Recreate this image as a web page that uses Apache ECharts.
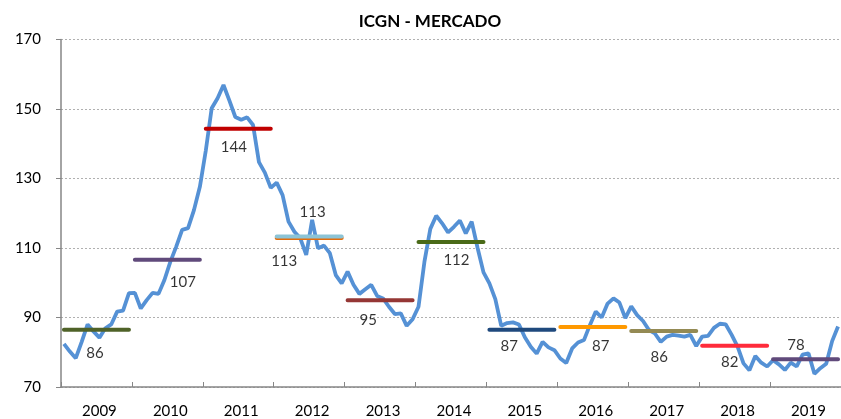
<!DOCTYPE html>
<html><head><meta charset="utf-8">
<script src="https://cdn.jsdelivr.net/npm/echarts@6/dist/echarts.min.js"></script>
<style>html,body{margin:0;padding:0;background:#fff}#c{width:841px;height:419px}</style>
</head><body><div id="c"></div>
<script>
// ---- data ----
const years = ['2009','2010','2011','2012','2013','2014','2015','2016','2017','2018','2019'];
const icgn2009 = [82.4, 80.2, 78.3, 83.0, 88.0, 86.0, 84.2, 86.9, 88.0, 91.7, 92.0, 97.0];
const icgn2010 = [97.1, 92.6, 95.0, 97.1, 96.8, 100.8, 106.0, 110.4, 115.2, 115.7, 120.9, 127.6];
const icgn2011 = [138.0, 150.2, 153.1, 156.9, 152.4, 147.7, 146.9, 147.6, 145.4, 134.7, 131.7, 127.3];
const icgn2012 = [128.8, 125.2, 117.6, 114.7, 112.8, 108.0, 118.1, 109.9, 110.7, 108.5, 102.2, 99.8];
const icgn2013 = [103.2, 99.4, 96.8, 98.1, 99.4, 96.2, 95.5, 93.1, 91.0, 91.2, 87.6, 89.5];
const icgn2014 = [93.1, 106.0, 115.5, 119.3, 117.1, 114.5, 116.1, 117.9, 114.2, 117.6, 110.0, 103.0];
const icgn2015 = [99.8, 95.3, 87.6, 88.4, 88.6, 88.0, 84.3, 81.6, 79.6, 83.0, 81.4, 80.6];
const icgn2016 = [78.2, 76.9, 81.1, 82.8, 83.5, 87.8, 91.7, 90.0, 94.0, 95.5, 94.3, 89.8];
const icgn2017 = [93.2, 90.7, 89.0, 86.4, 85.4, 83.0, 84.5, 85.0, 84.8, 84.5, 85.0, 81.8];
const icgn2018 = [84.5, 84.7, 87.0, 88.2, 88.0, 85.0, 81.6, 76.8, 74.8, 78.9, 77.0, 75.9];
const icgn2019 = [77.7, 76.5, 74.9, 77.0, 75.9, 79.3, 79.7, 73.8, 75.4, 76.7, 83.2, 87.4];
const yearlyAvg = [86.5, 106.6, 144.3, 113.3, 95.0, 111.7, 86.5, 87.3, 86.1, 81.9, 78.0];
const avgLabels = ['86', '107', '144', '113', '95', '112', '87', '87', '86', '82', '78'];
const avg2012b = 112.9;
const avg2012bLabel = '113';
const yTicks = [70, 90, 110, 130, 150, 170];

// ---- styles / placement ----
const avgColors = ['#4f6228', '#604a7b', '#c00000', '#8cc4d6', '#953735', '#4a6a18', '#1f497d', '#ff9900', '#948a54', '#ff2b3b', '#604a7b'];
const avgLabelPlace = [[6,-4.5,23],[8,0.7,22],[5,-1.5,18],[6,0.5,-24],[3,3,20],[6,2.5,18.5],[3,2,16],[7,-1,19],[5,-1.5,26],[5,-2,17],[4,-0.7,-14]];
const avg2012bPlace = [1, 1.6, 23];

const series2d = [icgn2009, icgn2010, icgn2011, icgn2012, icgn2013, icgn2014, icgn2015, icgn2016, icgn2017, icgn2018, icgn2019];
const icgn = series2d.flat();
const months = years.flatMap(y => ['01','02','03','04','05','06','07','08','09','10','11','12'].map(m => y + '-' + m));
const N = months.length;
const FONT = 'Lato';

function yearLine(k, v) {
  const d = new Array(N).fill(null);
  for (let j = 0; j < 12; j++) d[k * 12 + j] = v;
  return d;
}

const series = [{
  name: 'ICGN', type: 'line', data: icgn, symbol: 'none', z: 2,
  lineStyle: { color: '#5591d5', width: 3.8 }
}];

// 2012 second (orange) average line beneath the light blue one
series.push({
  type: 'line', data: yearLine(3, avg2012b), symbol: 'none', z: 3,
  lineStyle: { color: '#e46c0a', width: 4, cap: 'round' }
});
yearlyAvg.forEach((v, k) => {
  series.push({
    type: 'line', data: yearLine(k, v), symbol: 'none', z: 4,
    lineStyle: { color: avgColors[k], width: 4, cap: 'round' }
  });
});

const labelData = yearlyAvg.map((v, k) => ({
  value: [k * 12 + avgLabelPlace[k][0], v],
  label: { formatter: avgLabels[k], offset: [avgLabelPlace[k][1], avgLabelPlace[k][2]] }
}));
labelData.push({
  value: [3 * 12 + avg2012bPlace[0], avg2012b],
  label: { formatter: avg2012bLabel, offset: [avg2012bPlace[1], avg2012bPlace[2]] }
});
series.push({
  type: 'scatter', data: labelData, symbolSize: 1, z: 5,
  itemStyle: { color: 'rgba(0,0,0,0)' },
  label: { show: true, position: 'inside', color: '#000', fontSize: 15, fontFamily: FONT, align: 'center', verticalAlign: 'middle' },
  emphasis: { disabled: true }
});

const chart = echarts.init(document.getElementById('c'), null, { renderer: 'canvas' });
chart.setOption({
  animation: false,
  backgroundColor: '#fff',
  title: {
    text: 'ICGN - MERCADO', left: 425, top: 8, textAlign: 'center',
    textStyle: { fontFamily: FONT, fontSize: 17, fontWeight: 'bold', color: '#000' }
  },
  grid: { left: 61, right: 0, top: 39.5, bottom: 32, containLabel: false },
  xAxis: {
    type: 'category', data: months, boundaryGap: true,
    axisLine: { lineStyle: { color: '#868686', width: 1.5 } },
    axisTick: { show: true, inside: true, length: 5, interval: (i) => i % 12 === 0, lineStyle: { color: '#868686', width: 1 } },
    axisLabel: {
      interval: (i) => i % 12 === 6,
      formatter: (v) => v.slice(0, 4),
      fontFamily: FONT, fontSize: 15, color: '#000', margin: 17
    },
    splitLine: { show: false }
  },
  yAxis: {
    type: 'value', min: yTicks[0], max: yTicks[yTicks.length - 1], interval: yTicks[1] - yTicks[0],
    axisLine: { show: true, lineStyle: { color: '#868686', width: 1.5 } },
    axisTick: { show: true, length: 5, lineStyle: { color: '#868686' } },
    axisLabel: { fontFamily: FONT, fontSize: 15, color: '#000', margin: 20 },
    splitLine: { show: true, lineStyle: { color: '#b0b0b0', type: [2, 2], width: 1 } }
  },
  series: series
});
</script>
</body></html>
